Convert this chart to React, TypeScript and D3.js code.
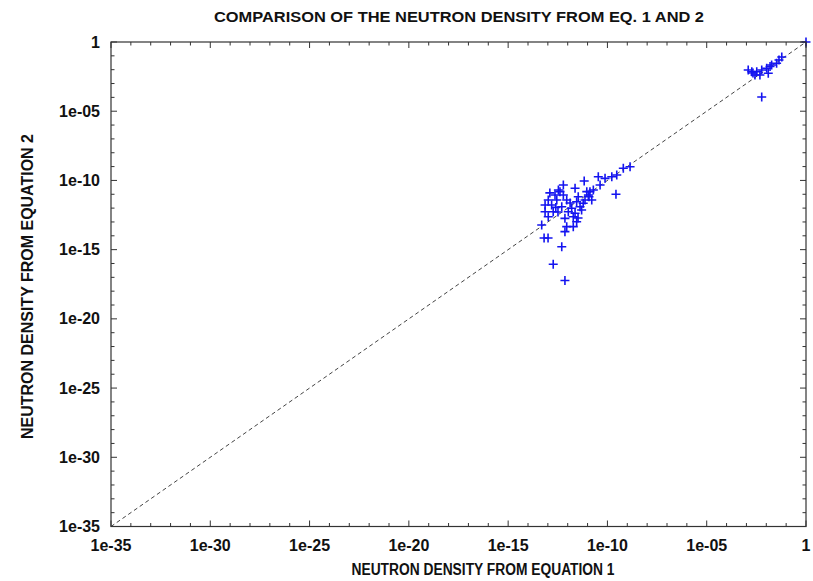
import React from "react";
import * as d3 from "d3";

// log10 of the neutron density
const eq1Log10 = [
  -11.17, -12.22, -12.47, -11.63, -12.64, -12.22, -11.04, -11.47, -12.98, -12.55,
  -12.05, -11.55, -11.13, -13.14, -12.81, -12.3, -11.8, -11.38, -13.14, -12.73,
  -11.97, -11.63, -12.98, -12.14, -11.72, -11.55, -13.31, -12.05, -12.14, -11.72,
  -10.79, -10.88, -10.93, -11.22, -11.3, -10.96, -10.71, -10.37, -10.46, -10.12,
  -9.78, -9.53, -9.2, -8.86, -9.57, -12.99, -13.19, -12.3, -12.73, -12.14,
  -12.39, -11.88, -12.49, -11.48, -12.9, -12.6,
  0, -1.22, -1.36, -1.48, -1.73, -1.81, -1.98, -2.23, -2.48, -2.73,
  -2.91, -2.57, -2.32, -1.9, -2.67, -2.23,
];
const eq2Log10 = [
  -10.04, -10.33, -10.69, -10.57, -11.05, -11.05, -10.81, -11.18, -11.41, -11.41,
  -11.41, -11.54, -11.41, -11.78, -11.78, -11.9, -12.01, -11.9, -12.26, -12.26,
  -12.26, -12.37, -12.62, -12.74, -12.62, -12.98, -13.22, -13.34, -13.7, -13.34,
  -11.41, -10.81, -11.18, -11.65, -12.14, -11.05, -10.69, -10.33, -9.73, -9.85,
  -9.73, -9.61, -9.12, -9.01, -11.0, -14.16, -14.16, -14.79, -16.06, -17.23,
  -10.81, -11.63, -12.28, -12.71, -10.9, -11.95,
  0, -1.08, -1.3, -1.54, -1.66, -1.77, -1.9, -2.02, -2.15, -2.15,
  -2.02, -2.38, -2.38, -2.26, -2.24, -3.97,
];

const majorTickExps = [-35, -30, -25, -20, -15, -10, -5, 0];
const tickLabels = ["1e-35", "1e-30", "1e-25", "1e-20", "1e-15", "1e-10", "1e-05", "1"];
const minorTickExps = d3.range(-35, 1);
const domain = [1e-35, 1];

const TITLE = "COMPARISON OF THE NEUTRON DENSITY FROM EQ. 1 AND 2";
const XTITLE = "NEUTRON DENSITY FROM EQUATION 1";
const YTITLE = "NEUTRON DENSITY FROM EQUATION 2";

export default function App() {
  const W = 813, H = 581;
  const L = 111, R = 806, T = 42, B = 526.5;
  const x = d3.scaleLog().domain(domain).range([L, R]);
  const y = d3.scaleLog().domain(domain).range([B, T]);
  const axisColor = "#333";
  const font = "'Liberation Sans', Arial, sans-serif";

  const ticks: React.ReactNode[] = [];
  minorTickExps.forEach((e) => {
    const major = majorTickExps.includes(e);
    const len = major ? 6 : 3.5;
    const xv = x(Math.pow(10, e));
    const yv = y(Math.pow(10, e));
    ticks.push(
      <g key={"t" + e} stroke={axisColor} strokeWidth={1}>
        <line x1={xv} x2={xv} y1={B} y2={B - len} />
        <line x1={xv} x2={xv} y1={T} y2={T + len} />
        <line x1={L} x2={L + len} y1={yv} y2={yv} />
        <line x1={R} x2={R - len} y1={yv} y2={yv} />
      </g>
    );
  });

  const diag = d3.line<number>()
    .x((d) => x(d))
    .y((d) => y(d))([1e-35, 1]);

  return (
    <svg width={W} height={H} style={{ position: "absolute", left: 0, top: 0, background: "#fff" }}
      fontFamily={font}>
      <rect x={0} y={0} width={W} height={H} fill="#fff" />
      <path d={diag || ""} stroke="#444" strokeWidth={1} strokeDasharray="4,3" fill="none" />
      {eq1Log10.map((v, i) => {
        const px = x(Math.pow(10, v));
        const py = y(Math.pow(10, eq2Log10[i]));
        return (
          <path key={i} d={`M${px - 4.5},${py}h9M${px},${py - 4.5}v9`} stroke="#1414f0" strokeWidth={1.6} fill="none" />
        );
      })}
      <rect x={L} y={T} width={R - L} height={B - T} fill="none" stroke={axisColor} strokeWidth={1.2} />
      {ticks}
      {majorTickExps.map((e, i) => (
        <text key={"xl" + e} x={x(Math.pow(10, e))} y={551} textAnchor="middle" fontSize={16} fontWeight="bold" fill="#111">
          {tickLabels[i]}
        </text>
      ))}
      {majorTickExps.map((e, i) => (
        <text key={"yl" + e} x={100} y={y(Math.pow(10, e))} dy="0.35em" textAnchor="end" fontSize={16} fontWeight="bold" fill="#111">
          {tickLabels[i]}
        </text>
      ))}
      <text x={459} y={22} textAnchor="middle" fontSize={14} fontWeight="bold" fill="#111"
        textLength={490} lengthAdjust="spacingAndGlyphs">{TITLE}</text>
      <text x={483} y={575} textAnchor="middle" fontSize={16} fontWeight="bold" fill="#111"
        textLength={263} lengthAdjust="spacingAndGlyphs">{XTITLE}</text>
      <text transform={`translate(33,286.5) rotate(-90)`} textAnchor="middle" fontSize={16} fontWeight="bold" fill="#111"
        textLength={305} lengthAdjust="spacingAndGlyphs">{YTITLE}</text>
    </svg>
  );
}
